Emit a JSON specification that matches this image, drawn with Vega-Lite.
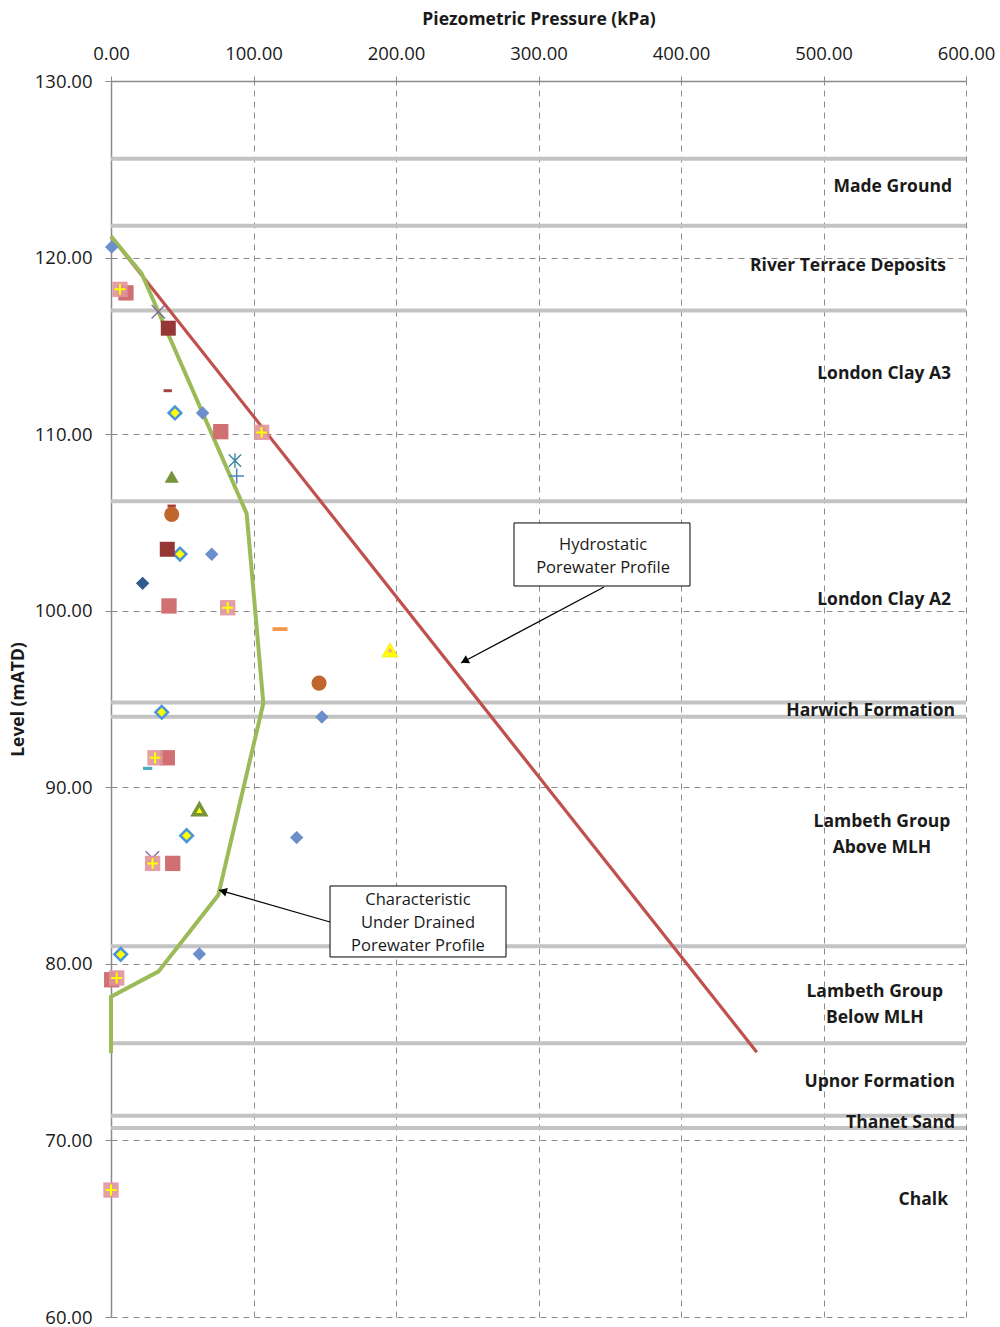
{
  "$schema": "https://vega.github.io/schema/vega-lite/v6.json",
  "width": 855,
  "height": 1236,
  "autosize": {"type": "none"},
  "padding": {"left": 111, "top": 81, "right": 34, "bottom": 10},
  "background": "white",
  "datasets": {
    "strata": [{"z": 125.6}, {"z": 121.8}, {"z": 117.0}, {"z": 106.2}, {"z": 94.8}, {"z": 94.0}, {"z": 81.0}, {"z": 75.5}, {"z": 71.4}, {"z": 70.7}],
    "lines": [
      {"line": "hydro", "i": 0, "p": 0, "z": 121.2},
      {"line": "hydro", "i": 1, "p": 453.2, "z": 75.0},
      {"line": "char", "i": 0, "p": 0, "z": 121.2},
      {"line": "char", "i": 1, "p": 21.5, "z": 119.1},
      {"line": "char", "i": 2, "p": 95.2, "z": 105.5},
      {"line": "char", "i": 3, "p": 106.9, "z": 94.76},
      {"line": "char", "i": 4, "p": 75.3, "z": 83.9},
      {"line": "char", "i": 5, "p": 33.2, "z": 79.56},
      {"line": "char", "i": 6, "p": 0, "z": 78.14},
      {"line": "char", "i": 7, "p": 0, "z": 74.95}
    ],
    "pts": [
      {"s": "bd", "p": 0.5, "z": 120.6},
      {"s": "bd", "p": 64.3, "z": 111.2},
      {"s": "bd", "p": 70.7, "z": 103.2},
      {"s": "bd", "p": 148.0, "z": 93.98},
      {"s": "bd", "p": 130.3, "z": 87.15},
      {"s": "bd", "p": 62.0, "z": 80.56},
      {"s": "yd", "p": 44.9, "z": 111.2},
      {"s": "yd", "p": 48.4, "z": 103.21},
      {"s": "yd", "p": 35.6, "z": 94.25},
      {"s": "yd", "p": 53.1, "z": 87.26},
      {"s": "yd", "p": 6.8, "z": 80.54},
      {"s": "nd", "p": 22.2, "z": 101.55},
      {"s": "px", "p": 33.2, "z": 116.93},
      {"s": "px", "p": 29.0, "z": 86.0},
      {"s": "ps", "p": 10.5, "z": 118.0},
      {"s": "ps", "p": 77.0, "z": 110.14},
      {"s": "ps", "p": 40.7, "z": 100.27},
      {"s": "ps", "p": 39.5, "z": 91.67},
      {"s": "ps", "p": 43.3, "z": 85.69},
      {"s": "ps", "p": 0.5, "z": 79.1},
      {"s": "pp", "p": 6.3, "z": 118.2},
      {"s": "pp", "p": 105.7, "z": 110.1},
      {"s": "pp", "p": 81.9, "z": 100.17},
      {"s": "pp", "p": 30.9, "z": 91.67},
      {"s": "pp", "p": 29.2, "z": 85.69},
      {"s": "pp", "p": 4.0, "z": 79.2},
      {"s": "pp", "p": 0.0, "z": 67.19},
      {"s": "drs", "p": 40.2, "z": 116.0},
      {"s": "drs", "p": 39.5, "z": 103.48},
      {"s": "drd", "p": 39.8, "z": 112.46},
      {"s": "drd", "p": 42.6, "z": 105.93},
      {"s": "ta", "p": 87.0, "z": 108.5},
      {"s": "bp", "p": 88.2, "z": 107.63},
      {"s": "ot", "p": 42.6, "z": 107.6},
      {"s": "oty", "p": 62.0, "z": 88.75},
      {"s": "oc", "p": 42.6, "z": 105.46},
      {"s": "oc", "p": 146.0, "z": 95.9},
      {"s": "yt", "p": 195.8, "z": 97.78},
      {"s": "od", "p": 118.6, "z": 98.96},
      {"s": "td", "p": 25.7, "z": 91.07}
    ],
    "labels": [
      {"t": "Made Ground", "p": 590.2, "z": 124.0, "a": "r"},
      {"t": "River Terrace Deposits", "p": 586.0, "z": 119.55, "a": "r"},
      {"t": "London Clay A3", "p": 589.5, "z": 113.38, "a": "r"},
      {"t": "London Clay A2", "p": 589.5, "z": 100.58, "a": "r"},
      {"t": "Harwich Formation", "p": 592.3, "z": 94.3, "a": "r"},
      {"t": "Lambeth Group\nAbove MLH", "p": 541.0, "z": 88.02, "a": "c"},
      {"t": "Lambeth Group\nBelow MLH", "p": 536.0, "z": 78.39, "a": "c"},
      {"t": "Upnor Formation", "p": 592.3, "z": 73.29, "a": "r"},
      {"t": "Thanet Sand", "p": 592.3, "z": 70.97, "a": "r"},
      {"t": "Chalk", "p": 587.4, "z": 66.6, "a": "r"}
    ],
    "boxes": [
      {"b": 1, "p": 282.8, "p2": 406.3, "z": 104.97, "z2": 101.40, "tp": 345.3, "tz": 103.7, "t": "Hydrostatic\nPorewater Profile"},
      {"b": 2, "p": 153.7, "p2": 277.2, "z": 84.41, "z2": 80.39, "tp": 215.4, "tz": 83.6, "t": "Characteristic\nUnder Drained\nPorewater Profile"}
    ],
    "arrows": [
      {"a": 1, "p": 346.0, "z": 101.34, "p2": 245.6, "z2": 97.04, "hp": 248.1, "hz": 97.15},
      {"a": 2, "p": 153.7, "z": 82.37, "p2": 75.8, "z2": 84.18, "hp": 78.5, "hz": 84.12}
    ]
  },
  "layer": [
    {
      "data": {"name": "strata"},
      "mark": {"type": "rule", "color": "#c3c3c3", "strokeWidth": 4},
      "encoding": {
        "y": {"field": "z", "type": "quantitative", "title": "Level (mATD)",
              "scale": {"domain": [60, 130], "nice": false, "zero": false},
              "axis": {"values": [60, 70, 80, 90, 100, 110, 120, 130], "tickSize": 6, "labelPadding": 13, "titlePadding": 7}}
      }
    },
    {
      "data": {"name": "lines"},
      "transform": [{"filter": "datum.line == 'hydro'"}],
      "mark": {"type": "line", "color": "#c0504d", "strokeWidth": 3.2},
      "encoding": {
        "x": {"field": "p", "type": "quantitative", "title": "Piezometric Pressure (kPa)",
              "scale": {"domain": [0, 600], "nice": false, "zero": false},
              "axis": {"orient": "top", "values": [0, 100, 200, 300, 400, 500, 600], "tickSize": 5, "labelPadding": 13, "titlePadding": 16}},
        "y": {"field": "z", "type": "quantitative", "title": "Level (mATD)"},
        "order": {"field": "i"}
      }
    },
    {
      "data": {"name": "lines"},
      "transform": [{"filter": "datum.line == 'char'"}],
      "mark": {"type": "line", "color": "#9bbb59", "strokeWidth": 4},
      "encoding": {
        "x": {"field": "p", "type": "quantitative", "title": "Piezometric Pressure (kPa)"},
        "y": {"field": "z", "type": "quantitative", "title": "Level (mATD)"},
        "order": {"field": "i"}
      }
    },
    {
      "data": {"name": "pts"},
      "transform": [{"filter": "datum.s == 'bd'"}],
      "mark": {"type": "point", "shape": "diamond", "filled": true, "color": "#6b8fca", "size": 180, "opacity": 1},
      "encoding": {"x": {"field": "p", "type": "quantitative", "title": "Piezometric Pressure (kPa)"}, "y": {"field": "z", "type": "quantitative", "title": "Level (mATD)"}}
    },
    {
      "data": {"name": "pts"},
      "transform": [{"filter": "datum.s == 'yd'"}],
      "mark": {"type": "point", "shape": "diamond", "filled": true, "fill": "#ffff00", "stroke": "#4a94dc", "strokeWidth": 2.5, "size": 160, "opacity": 1},
      "encoding": {"x": {"field": "p", "type": "quantitative", "title": "Piezometric Pressure (kPa)"}, "y": {"field": "z", "type": "quantitative", "title": "Level (mATD)"}}
    },
    {
      "data": {"name": "pts"},
      "transform": [{"filter": "datum.s == 'nd'"}],
      "mark": {"type": "point", "shape": "diamond", "filled": true, "color": "#2e5b8c", "size": 180, "opacity": 1},
      "encoding": {"x": {"field": "p", "type": "quantitative", "title": "Piezometric Pressure (kPa)"}, "y": {"field": "z", "type": "quantitative", "title": "Level (mATD)"}}
    },
    {
      "data": {"name": "pts"},
      "transform": [{"filter": "datum.s == 'px'"}],
      "mark": {"type": "point", "shape": "M-1,-1L1,1M-1,1L1,-1", "filled": false, "color": "#8064a2", "strokeWidth": 1.3, "size": 180, "opacity": 1},
      "encoding": {"x": {"field": "p", "type": "quantitative", "title": "Piezometric Pressure (kPa)"}, "y": {"field": "z", "type": "quantitative", "title": "Level (mATD)"}}
    },
    {
      "data": {"name": "pts"},
      "transform": [{"filter": "datum.s == 'ps'"}],
      "mark": {"type": "point", "shape": "square", "filled": true, "color": "#d07072", "size": 235, "opacity": 1},
      "encoding": {"x": {"field": "p", "type": "quantitative", "title": "Piezometric Pressure (kPa)"}, "y": {"field": "z", "type": "quantitative", "title": "Level (mATD)"}}
    },
    {
      "data": {"name": "pts"},
      "transform": [{"filter": "datum.s == 'pp'"}],
      "mark": {"type": "point", "shape": "square", "filled": true, "color": "#e0959c", "size": 235, "opacity": 0.9},
      "encoding": {"x": {"field": "p", "type": "quantitative", "title": "Piezometric Pressure (kPa)"}, "y": {"field": "z", "type": "quantitative", "title": "Level (mATD)"}}
    },
    {
      "data": {"name": "pts"},
      "transform": [{"filter": "datum.s == 'pp'"}],
      "mark": {"type": "point", "shape": "M-1,0L1,0M0,-1L0,1", "filled": false, "color": "#ffff00", "strokeWidth": 2, "size": 120, "opacity": 1},
      "encoding": {"x": {"field": "p", "type": "quantitative", "title": "Piezometric Pressure (kPa)"}, "y": {"field": "z", "type": "quantitative", "title": "Level (mATD)"}}
    },
    {
      "data": {"name": "pts"},
      "transform": [{"filter": "datum.s == 'drs'"}],
      "mark": {"type": "point", "shape": "square", "filled": true, "color": "#953735", "size": 225, "opacity": 1},
      "encoding": {"x": {"field": "p", "type": "quantitative", "title": "Piezometric Pressure (kPa)"}, "y": {"field": "z", "type": "quantitative", "title": "Level (mATD)"}}
    },
    {
      "data": {"name": "pts"},
      "transform": [{"filter": "datum.s == 'drd'"}],
      "mark": {"type": "point", "shape": "M-1,-0.35L1,-0.35L1,0.35L-1,0.35Z", "filled": true, "color": "#a8403d", "size": 70, "opacity": 1},
      "encoding": {"x": {"field": "p", "type": "quantitative", "title": "Piezometric Pressure (kPa)"}, "y": {"field": "z", "type": "quantitative", "title": "Level (mATD)"}}
    },
    {
      "data": {"name": "pts"},
      "transform": [{"filter": "datum.s == 'ta'"}],
      "mark": {"type": "point", "shape": "M-1,-1L1,1M-1,1L1,-1M0,-1.2L0,1.2", "filled": false, "color": "#31859c", "strokeWidth": 1.3, "size": 150, "opacity": 1},
      "encoding": {"x": {"field": "p", "type": "quantitative", "title": "Piezometric Pressure (kPa)"}, "y": {"field": "z", "type": "quantitative", "title": "Level (mATD)"}}
    },
    {
      "data": {"name": "pts"},
      "transform": [{"filter": "datum.s == 'bp'"}],
      "mark": {"type": "point", "shape": "M-1,0L1,0M0,-1L0,1", "filled": false, "color": "#4f81bd", "strokeWidth": 1.5, "size": 220, "opacity": 1},
      "encoding": {"x": {"field": "p", "type": "quantitative", "title": "Piezometric Pressure (kPa)"}, "y": {"field": "z", "type": "quantitative", "title": "Level (mATD)"}}
    },
    {
      "data": {"name": "pts"},
      "transform": [{"filter": "datum.s == 'ot'"}],
      "mark": {"type": "point", "shape": "triangle-up", "filled": true, "color": "#77933c", "size": 200, "opacity": 1},
      "encoding": {"x": {"field": "p", "type": "quantitative", "title": "Piezometric Pressure (kPa)"}, "y": {"field": "z", "type": "quantitative", "title": "Level (mATD)"}}
    },
    {
      "data": {"name": "pts"},
      "transform": [{"filter": "datum.s == 'oty'"}],
      "mark": {"type": "point", "shape": "triangle-up", "filled": true, "fill": "#ffff00", "stroke": "#77933c", "strokeWidth": 3.5, "size": 150, "opacity": 1},
      "encoding": {"x": {"field": "p", "type": "quantitative", "title": "Piezometric Pressure (kPa)"}, "y": {"field": "z", "type": "quantitative", "title": "Level (mATD)"}}
    },
    {
      "data": {"name": "pts"},
      "transform": [{"filter": "datum.s == 'oc'"}],
      "mark": {"type": "point", "shape": "circle", "filled": true, "color": "#c0652c", "size": 230, "opacity": 1},
      "encoding": {"x": {"field": "p", "type": "quantitative", "title": "Piezometric Pressure (kPa)"}, "y": {"field": "z", "type": "quantitative", "title": "Level (mATD)"}}
    },
    {
      "data": {"name": "pts"},
      "transform": [{"filter": "datum.s == 'yt'"}],
      "mark": {"type": "point", "shape": "triangle-up", "filled": true, "fill": "#ffff00", "stroke": "#f2ec2a", "strokeWidth": 1, "size": 260, "opacity": 1},
      "encoding": {"x": {"field": "p", "type": "quantitative", "title": "Piezometric Pressure (kPa)"}, "y": {"field": "z", "type": "quantitative", "title": "Level (mATD)"}}
    },
    {
      "data": {"name": "pts"},
      "transform": [{"filter": "datum.s == 'yt'"}],
      "mark": {"type": "point", "shape": "triangle-up", "filled": true, "color": "#f4a98a", "size": 30, "opacity": 1, "dy": 2},
      "encoding": {"x": {"field": "p", "type": "quantitative", "title": "Piezometric Pressure (kPa)"}, "y": {"field": "z", "type": "quantitative", "title": "Level (mATD)"}}
    },
    {
      "data": {"name": "pts"},
      "transform": [{"filter": "datum.s == 'od'"}],
      "mark": {"type": "point", "shape": "M-1,-0.25L1,-0.25L1,0.25L-1,0.25Z", "filled": true, "color": "#f79646", "size": 225, "opacity": 1},
      "encoding": {"x": {"field": "p", "type": "quantitative", "title": "Piezometric Pressure (kPa)"}, "y": {"field": "z", "type": "quantitative", "title": "Level (mATD)"}}
    },
    {
      "data": {"name": "pts"},
      "transform": [{"filter": "datum.s == 'td'"}],
      "mark": {"type": "point", "shape": "M-1,-0.35L1,-0.35L1,0.35L-1,0.35Z", "filled": true, "color": "#4bacc6", "size": 85, "opacity": 1},
      "encoding": {"x": {"field": "p", "type": "quantitative", "title": "Piezometric Pressure (kPa)"}, "y": {"field": "z", "type": "quantitative", "title": "Level (mATD)"}}
    },
    {
      "data": {"name": "arrows"},
      "mark": {"type": "rule", "color": "#000000", "strokeWidth": 1.2},
      "encoding": {
        "x": {"field": "p", "type": "quantitative", "title": "Piezometric Pressure (kPa)"},
        "y": {"field": "z", "type": "quantitative", "title": "Level (mATD)"},
        "x2": {"field": "p2"},
        "y2": {"field": "z2"}
      }
    },
    {
      "data": {"name": "arrows"},
      "transform": [{"filter": "datum.a == 1"}],
      "mark": {"type": "point", "shape": "triangle-up", "filled": true, "color": "#000000", "size": 80, "angle": 242, "opacity": 1},
      "encoding": {"x": {"field": "hp", "type": "quantitative", "title": "Piezometric Pressure (kPa)"}, "y": {"field": "hz", "type": "quantitative", "title": "Level (mATD)"}}
    },
    {
      "data": {"name": "arrows"},
      "transform": [{"filter": "datum.a == 2"}],
      "mark": {"type": "point", "shape": "triangle-up", "filled": true, "color": "#000000", "size": 80, "angle": 286, "opacity": 1},
      "encoding": {"x": {"field": "hp", "type": "quantitative", "title": "Piezometric Pressure (kPa)"}, "y": {"field": "hz", "type": "quantitative", "title": "Level (mATD)"}}
    },
    {
      "data": {"name": "boxes"},
      "mark": {"type": "rect", "fill": "#ffffff", "stroke": "#000000", "strokeWidth": 1},
      "encoding": {
        "x": {"field": "p", "type": "quantitative", "title": "Piezometric Pressure (kPa)"},
        "x2": {"field": "p2"},
        "y": {"field": "z", "type": "quantitative", "title": "Level (mATD)"},
        "y2": {"field": "z2"}
      }
    },
    {
      "data": {"name": "boxes"},
      "mark": {"type": "text", "font": "Open Sans", "fontSize": 16.5, "color": "#1a1a1a", "align": "center", "baseline": "middle", "lineBreak": "\n", "lineHeight": 23},
      "encoding": {
        "x": {"field": "tp", "type": "quantitative", "title": "Piezometric Pressure (kPa)"},
        "y": {"field": "tz", "type": "quantitative", "title": "Level (mATD)"},
        "text": {"field": "t"}
      }
    },
    {
      "data": {"name": "labels"},
      "transform": [{"filter": "datum.a == 'r'"}],
      "mark": {"type": "text", "font": "Open Sans", "fontSize": 17.5, "fontWeight": "bold", "color": "#1a1a1a", "align": "right", "baseline": "middle"},
      "encoding": {
        "x": {"field": "p", "type": "quantitative", "title": "Piezometric Pressure (kPa)"},
        "y": {"field": "z", "type": "quantitative", "title": "Level (mATD)"},
        "text": {"field": "t"}
      }
    },
    {
      "data": {"name": "labels"},
      "transform": [{"filter": "datum.a == 'c'"}],
      "mark": {"type": "text", "font": "Open Sans", "fontSize": 17.5, "fontWeight": "bold", "color": "#1a1a1a", "align": "center", "baseline": "middle", "lineBreak": "\n", "lineHeight": 26},
      "encoding": {
        "x": {"field": "p", "type": "quantitative", "title": "Piezometric Pressure (kPa)"},
        "y": {"field": "z", "type": "quantitative", "title": "Level (mATD)"},
        "text": {"field": "t"}
      }
    }
  ],
  "config": {
    "view": {"stroke": null},
    "axis": {
      "format": ".2f",
      "labelFont": "Open Sans",
      "labelFontSize": 18.5,
      "labelColor": "#1a1a1a",
      "labelFlush": false,
      "labelOverlap": false,
      "domainColor": "#8c8c8c",
      "domainWidth": 1.5,
      "tickColor": "#8c8c8c",
      "tickWidth": 1,
      "grid": true,
      "gridColor": "#8c8c8c",
      "gridDash": [6, 5],
      "gridWidth": 1,
      "titleFont": "Open Sans",
      "titleFontSize": 17.5,
      "titleFontWeight": "bold",
      "titleColor": "#1a1a1a"
    }
  }
}
